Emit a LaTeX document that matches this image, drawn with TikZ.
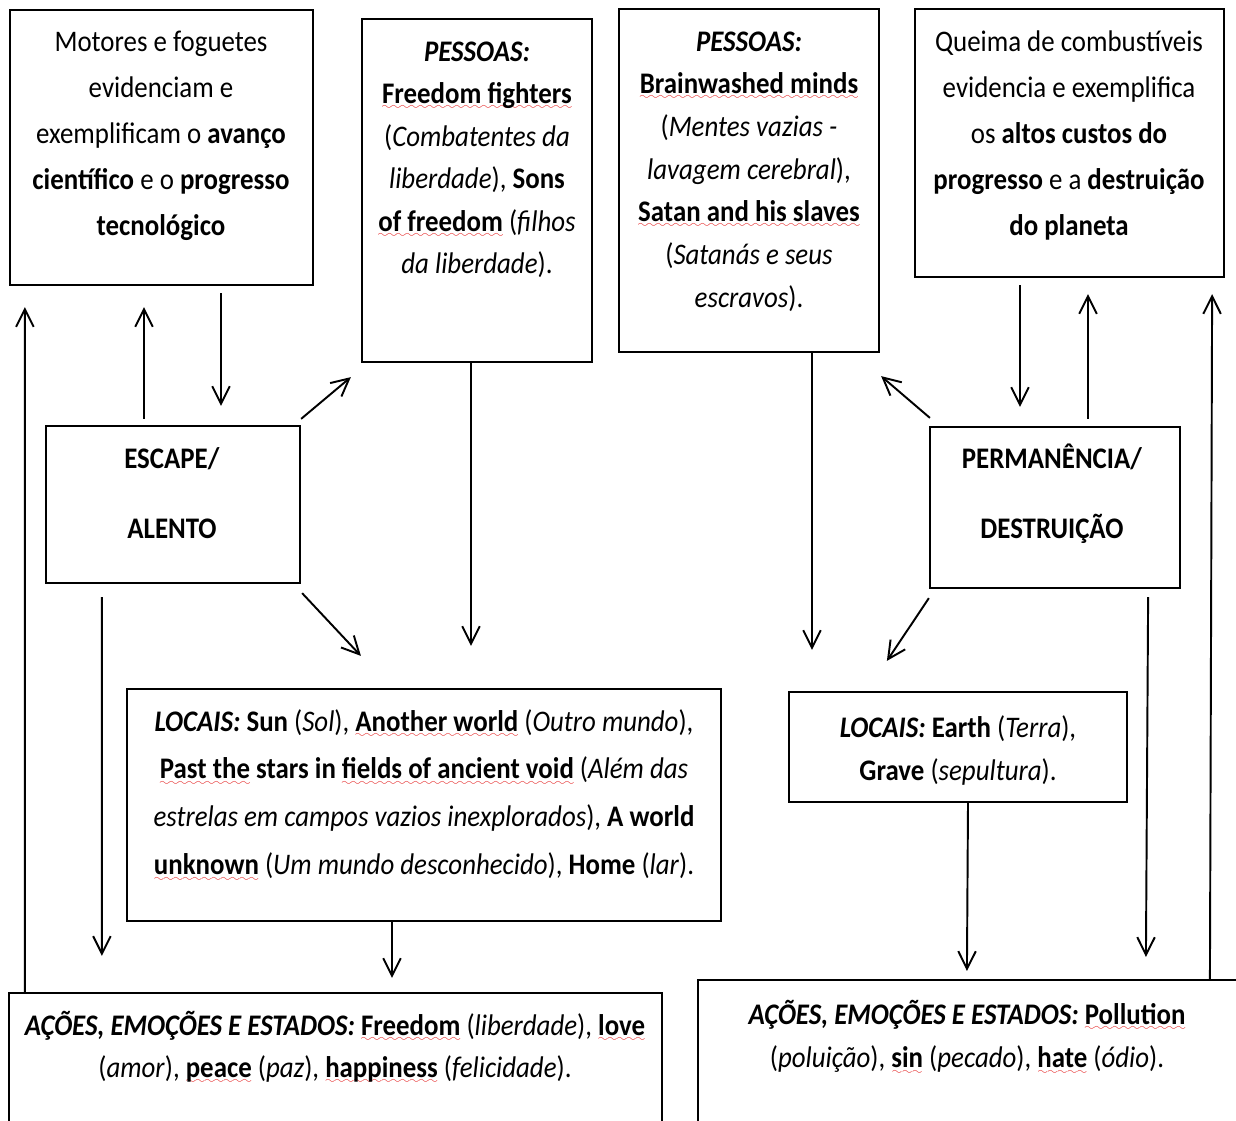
\documentclass[tikz,border=0pt]{standalone}
\usepackage{fontspec}
\setmainfont{Carlito}[FakeStretch=0.9]
\usetikzlibrary{arrows.meta,calc}
\tikzset{%%
  >={Straight Barb[length=10pt,width=10pt]},
  box/.style={draw, line width=1.3pt, inner sep=0pt},
  txt/.style={text width=13cm, align=flush center, inner sep=0pt, anchor=base},
  skip/.style={font=\fontsize{17}{#1}\selectfont}
  }
\definecolor{spellRed}{RGB}{228, 32, 32}
\font\spellwave=lasy6
\newcommand{\spell}[1]{\leavevmode\setbox0\hbox{#1}\rlap{\textcolor{spellRed}{\lower3.5pt\hbox to \wd0{\xleaders\hbox{\spellwave\char58}\hfil}}}\box0\relax}

\begin{document}
\begin{tikzpicture}[x=0.02cm, y=-0.02cm]
  \useasboundingbox (0,0) rectangle (1236,1120);
  % boxes
  \node[box, minimum width=6.06cm, minimum height=5.5cm] (motores) at (161.5,147.5) {};
  \node[box, minimum width=4.6cm, minimum height=6.86cm] (pessoasesc) at (477,190.5) {};
  \node[box, minimum width=5.2cm, minimum height=6.86cm] (pessoasdes) at (749,180.5) {};
  \node[box, minimum width=6.18cm, minimum height=5.36cm] (queima) at (1069.5,143) {};
  \node[box, minimum width=5.08cm, minimum height=3.14cm] (escape) at (173,504.5) {};
  \node[box, minimum width=5cm, minimum height=3.22cm] (permanencia) at (1055,507.5) {};
  \node[box, minimum width=11.88cm, minimum height=4.64cm] (locaisesc) at (424,805) {};
  \node[box, minimum width=6.76cm, minimum height=2.2cm] (locaisdes) at (958,747) {};
  \node[box, minimum width=13.06cm, minimum height=3.34cm] (acoesesc) at (335.5,1076.5) {};
  \node[box, minimum width=11.64cm, minimum height=3.6cm] (acoesdes) at (989,1070) {};

  % texts
  \node[txt, skip=26.2] (motorestxt) at (161,51) {Motores e foguetes\\ evidenciam e\\ exemplificam o \textbf{avanço}\\ \textbf{científico} e o \textbf{progresso}\\ \textbf{tecnológico}};
  \node[txt, skip=24.2] (pessoasesctxt) at (477,61) {\textbf{\textit{PESSOAS:}}\\ \spell{\textbf{Freedom fighters}}\\ (\textit{Combatentes da}\\ \textit{liberdade}), \textbf{Sons}\\ \spell{\textbf{of freedom}} (\textit{filhos}\\ \textit{da liberdade}).};
  \node[txt, skip=24.3] (pessoasdestxt) at (749,51) {\textbf{\textit{PESSOAS:}}\\ \spell{\textbf{Brainwashed minds}}\\ (\textit{Mentes vazias -}\\ \textit{lavagem cerebral}),\\ \spell{\textbf{Satan and his slaves}}\\ (\textit{Satanás e seus}\\ \textit{escravos}).};
  \node[txt, skip=26.2] (queimatxt) at (1069,51) {Queima de combustíveis\\ evidencia e exemplifica\\ os \textbf{altos custos do}\\ \textbf{progresso} e a \textbf{destruição}\\ \textbf{do planeta}};
  \node[txt, skip=40.4] (escapetxt) at (172,468) {\textbf{ESCAPE/}\\ \textbf{ALENTO}};
  \node[txt, skip=40.4] (permanenciatxt) at (1052,468) {\textbf{PERMANÊNCIA/}\\ \textbf{DESTRUIÇÃO}};
  \node[txt, skip=27.3] (locaisesctxt) at (424,731) {\textbf{\textit{LOCAIS:}} \textbf{Sun} (\textit{Sol}), \spell{\textbf{Another world}} (\textit{Outro mundo}),\\ \spell{\textbf{Past the}} \textbf{stars in} \spell{\textbf{fields of ancient void}} (\textit{Além das}\\ \textit{estrelas em campos vazios inexplorados}), \textbf{A world}\\ \spell{\textbf{unknown}} (\textit{Um mundo desconhecido}), \textbf{Home} (\textit{lar}).};
  \node[txt, skip=25] (locaisdestxt) at (958,737) {\textbf{\textit{LOCAIS:}} \textbf{Earth} (\textit{Terra}),\\ \textbf{Grave} (\textit{sepultura}).};
  \node[txt, skip=23.9] (acoesesctxt) at (335,1035) {\textbf{\textit{AÇÕES, EMOÇÕES E ESTADOS:}} \spell{\textbf{Freedom}} (\textit{liberdade}), \spell{\textbf{love}}\\ (\textit{amor}), \spell{\textbf{peace}} (\textit{paz}), \spell{\textbf{happiness}} (\textit{felicidade}).};
  \node[txt, skip=25] (acoesdestxt) at (967,1024) {\textbf{\textit{AÇÕES, EMOÇÕES E ESTADOS:}} \spell{\textbf{Pollution}}\\ (\textit{poluição}), \spell{\textbf{sin}} (\textit{pecado}), \spell{\textbf{hate}} (\textit{ódio}).};

  % left side
  \draw[->, line width=1.1pt] ($(acoesesc.north west)+(17,0)$) -- ($(motores.south west)+(16,21)$);
  \draw[->, line width=1.1pt] ($(escape.north)+(-29,-6)$) -- ($(motores.south)+(-17.5,21)$);
  \draw[->, line width=1.1pt] ($(motores.south)+(59.5,7)$) -- ($(escape.north)+(48,-19)$);
  \draw[->, line width=1.1pt] ($(escape.north east)+(0,-6)$) -- ($(pessoasesc.south west)+(-10,14)$);
  \draw[->, line width=1.1pt] ($(escape.south east)+(1,9)$) -- ($(locaisesc.north west)+(235,-32)$);
  \draw[->, line width=1.1pt] ($(pessoasesc.south)+(-6,0)$) -- ($(locaisesc.north)+(47,-42)$);
  \draw[->, line width=1.1pt] ($(escape.south west)+(57,13)$) -- ($(acoesesc.north west)+(94,-36)$);
  \draw[->, line width=1.1pt] ($(locaisesc.south)+(-32,0)$) -- ($(acoesesc.north)+(56.5,-14)$);
  % right side
  \draw[->, line width=1.1pt] ($(pessoasdes.south)+(63,0)$) -- ($(locaisdes.north)+(-146,-41)$);
  \draw[->, line width=1.1pt] ($(permanencia.north west)+(1,-8)$) -- ($(pessoasdes.south east)+(1,23)$);
  \draw[->, line width=1.1pt] ($(queima.south)+(-49.5,7)$) -- ($(permanencia.north)+(-35,-19)$);
  \draw[->, line width=1.1pt] ($(permanencia.north)+(33,-7)$) -- ($(queima.south)+(18.5,16)$);
  \draw[->, line width=1.1pt] ($(acoesdes.north west)+(513,0)$) -- ($(queima.south east)+(-13,16)$);
  \draw[->, line width=1.1pt] ($(permanencia.south west)+(0,9)$) -- ($(locaisdes.north west)+(99,-30)$);
  \draw[->, line width=1.1pt] ($(permanencia.south east)+(-33,8)$) -- ($(acoesdes.north west)+(449,-22)$);
  \draw[->, line width=1.1pt] ($(locaisdes.south)+(10,0)$) -- ($(acoesdes.north west)+(270,-8)$);
\end{tikzpicture}
\end{document}
